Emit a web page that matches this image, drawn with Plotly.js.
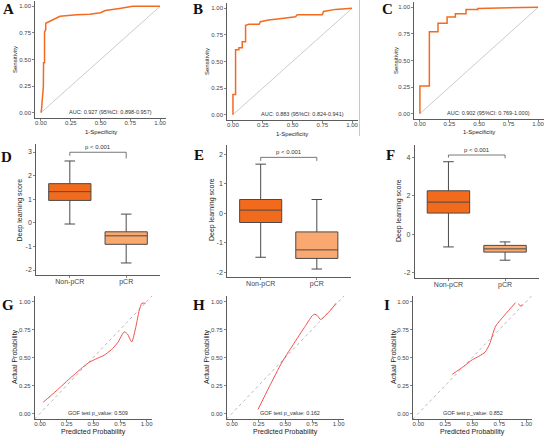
<!DOCTYPE html>
<html><head><meta charset="utf-8">
<script src="https://cdn.plot.ly/plotly-3.0.1.min.js"></script>
<style>html,body{margin:0;padding:0;background:#fff}#chart{width:546px;height:436px}</style>
</head><body><div id="chart"></div>
<script>
// ---------- DATA ----------
const probTicks = [0, 0.25, 0.5, 0.75, 1];
const probTickText = ['0.00', '0.25', '0.50', '0.75', '1.00'];
const categories = ['Non-pCR', 'pCR'];
const panelLetters = ['A','B','C','D','E','F','G','H','I'];

// ROC curves
const rocA_fpr = [0,0.005,0.01,0.02,0.022,0.03,0.03,0.04,0.04,0.078,0.12,0.16,0.3,0.41,0.5,0.54,0.66,0.77,1];
const rocA_tpr = [0,0.03,0.11,0.24,0.47,0.47,0.76,0.78,0.84,0.86,0.89,0.906,0.92,0.925,0.94,0.96,0.98,1,1];
const rocB_fpr = [0,0,0.022,0.022,0.05,0.05,0.078,0.078,0.106,0.106,0.134,0.22,0.23,0.30,0.41,0.525,0.54,0.75,0.76,0.86,1];
const rocB_tpr = [0,0.19,0.19,0.61,0.61,0.63,0.63,0.686,0.686,0.84,0.85,0.85,0.874,0.89,0.905,0.92,0.94,0.94,0.97,0.99,1];
const rocC_fpr = [0,0,0.08,0.08,0.153,0.153,0.23,0.23,0.30,0.30,0.39,0.39,0.49,0.49,1];
const rocC_tpr = [0,0.26,0.26,0.77,0.77,0.85,0.85,0.91,0.91,0.94,0.94,0.98,0.98,0.99,1];
const aucLabels = ['AUC: 0.927 (95%CI: 0.898-0.957)', 'AUC: 0.883 (95%CI: 0.824-0.941)', 'AUC: 0.902 (95%CI: 0.769-1.000)'];

// Box plots (lower fence, q1, median, q3, upper fence) per group
const boxD_nonpcr = [-0.05, 0.95, 1.32, 1.66, 2.62];
const boxD_pcr    = [-1.70, -0.91, -0.55, -0.38, 0.37];
const boxE_nonpcr = [-1.49, -0.31, 0.11, 0.47, 1.67];
const boxE_pcr    = [-1.89, -1.53, -1.24, -0.63, 0.47];
const boxF_nonpcr = [-0.66, 1.10, 1.67, 2.26, 3.77];
const boxF_pcr    = [-1.35, -0.93, -0.76, -0.58, -0.40];
// significance brackets: [left end y, top y, right end y]
const bracketD = [2.84, 2.99, 2.73];
const bracketE = [1.78, 1.90, 1.78];
const bracketF = [3.98, 4.12, 3.95];
const pLabel = 'p < 0.001';
const boxTicksD = [-2, -1, 0, 1, 2, 3];
const boxTicksE = [-2, -1, 0, 1, 2];
const boxTicksF = [-2, 0, 2, 4];

// Calibration curves
const calG_pred = [0.03,0.15,0.3,0.45,0.52,0.6,0.67,0.73,0.77,0.79,0.82,0.86,0.9,0.93,0.955,0.99];
const calG_act  = [0.10,0.20,0.33,0.45,0.485,0.52,0.57,0.635,0.705,0.73,0.71,0.64,0.78,0.92,0.985,0.985];
const calH_pred = [0.244,0.35,0.47,0.59,0.70,0.75,0.775,0.80,0.83,0.88,0.93,0.975];
const calH_act  = [0.036,0.24,0.46,0.64,0.80,0.872,0.887,0.875,0.84,0.88,0.93,0.985];
const calI_pred = [0.315,0.42,0.50,0.56,0.62,0.66,0.716,0.80,0.90,null,0.925,0.95,0.963];
const calI_act  = [0.35,0.42,0.48,0.51,0.55,0.62,0.78,0.88,0.99,null,0.98,0.96,0.975];
const gofLabels = ['GOF test p_value: 0.509', 'GOF test p_value: 0.162', 'GOF test p_value: 0.852'];

// ---------- LAYOUT HELPERS ----------
const W = 546, H = 436;
const fx = p => p / W, fy = p => 1 - p / H;
// pixel boxes [x0, x1, ytop, ybottom]
const boxesPx = [
  [35, 166, 1, 118], [227, 358, 3, 120], [414, 544, 2, 119],
  [36, 160, 144, 275], [227, 350.5, 145, 276.7], [414.5, 539, 145, 277.7],
  [34.7, 152, 296, 419], [226.7, 344, 296, 419], [412.9, 531.7, 296, 419]
];
const yRanges = [null, null, null, [-2.21, 3.34], [-2.15, 2.32], [-2.26, 4.64], null, null, null];
const boxTicks = [null, null, null, boxTicksD, boxTicksE, boxTicksF];

const FONT = 'Liberation Sans, Arial, sans-serif';
const layout = {
  width: W, height: H, margin: {l: 0, r: 0, t: 0, b: 0},
  paper_bgcolor: '#fff', plot_bgcolor: '#fff', showlegend: false,
  font: {family: FONT, color: '#222'},
  annotations: [], shapes: []
};
function axBase() {
  return {showline: true, linecolor: '#333', linewidth: 0.8, ticks: 'outside', ticklen: 2,
    tickwidth: 0.6, tickcolor: '#333', showgrid: false, zeroline: false, fixedrange: true,
    tickfont: {size: 6, color: '#444', family: FONT}};
}
for (let i = 0; i < 9; i++) {
  const [x0, x1, yt, yb] = boxesPx[i];
  const xa = axBase(), ya = axBase();
  xa.domain = [fx(x0), fx(x1)]; ya.domain = [fy(yb), fy(yt)];
  const n = i === 0 ? '' : String(i + 1);
  xa.anchor = 'y' + n; ya.anchor = 'x' + n;
  xa.ticklabelstandoff = -3;
  if (i >= 3 && i <= 5) {
    xa.type = 'category'; xa.categoryorder = 'array'; xa.categoryarray = categories;
    xa.range = [-0.6, 1.6]; xa.tickfont = {size: 7, color: '#444', family: FONT};
    xa.ticklabelstandoff = -2;
    ya.range = yRanges[i]; ya.tickvals = boxTicks[i]; ya.ticktext = boxTicks[i].map(v => String(v));
    ya.tickfont = {size: 7, color: '#444', family: FONT};
  } else {
    xa.range = [-0.05, 1.05]; ya.range = [-0.05, 1.05];
    xa.tickvals = probTicks; xa.ticktext = probTickText;
    ya.tickvals = probTicks; ya.ticktext = probTickText;
  }
  layout['xaxis' + n] = xa; layout['yaxis' + n] = ya;
}

const traces = [];
const ROC_COLOR = '#F26B21', CAL_COLOR = '#F2504D';
function axn(i) { return i === 0 ? ['x', 'y'] : ['x' + (i + 1), 'y' + (i + 1)]; }

// ROC panels
[[rocA_fpr, rocA_tpr], [rocB_fpr, rocB_tpr], [rocC_fpr, rocC_tpr]].forEach((d, i) => {
  const [xr, yr] = axn(i);
  traces.push({x: [0, 1], y: [0, 1], xaxis: xr, yaxis: yr, mode: 'lines', hoverinfo: 'skip',
    line: {color: '#aaa', width: 0.6}});
  traces.push({x: d[0], y: d[1], xaxis: xr, yaxis: yr, mode: 'lines', line: {color: ROC_COLOR, width: 1.5}});
  layout.annotations.push({xref: xr, yref: yr, x: 0.945, y: 0.01, xanchor: 'right', yanchor: 'middle',
    text: aucLabels[i], showarrow: false, font: {size: 5.5, color: '#333', family: FONT}});
});

// Box panels
const boxData = [[boxD_nonpcr, boxD_pcr, bracketD], [boxE_nonpcr, boxE_pcr, bracketE], [boxF_nonpcr, boxF_pcr, bracketF]];
const boxFills = ['#F26B1D', '#F9A870'];
boxData.forEach((d, k) => {
  const i = k + 3; const [xr, yr] = axn(i);
  [d[0], d[1]].forEach((s, g) => {
    traces.push({type: 'box', x: [categories[g]], lowerfence: [s[0]], q1: [s[1]], median: [s[2]],
      q3: [s[3]], upperfence: [s[4]], xaxis: xr, yaxis: yr, boxpoints: false, width: 0.75,
      whiskerwidth: 0.25, fillcolor: boxFills[g], line: {color: '#4a4a4a', width: 1}});
  });
  const b = d[2];
  traces.push({x: [categories[0], categories[0], categories[1], categories[1]], y: [b[0], b[1], b[1], b[2]],
    xaxis: xr, yaxis: yr, mode: 'lines', line: {color: '#555', width: 0.8}, hoverinfo: 'skip'});
  layout.annotations.push({xref: xr, yref: yr, x: 0.5, y: b[1], xanchor: 'center', yanchor: 'bottom',
    text: pLabel, showarrow: false, font: {size: 6, color: '#333', family: FONT}});
});

// Calibration panels
[[calG_pred, calG_act], [calH_pred, calH_act], [calI_pred, calI_act]].forEach((d, k) => {
  const i = k + 6; const [xr, yr] = axn(i);
  traces.push({x: [-0.05, 1.05], y: [-0.05, 1.05], xaxis: xr, yaxis: yr, mode: 'lines', hoverinfo: 'skip',
    line: {color: '#888', width: 0.6, dash: 'dot'}});
  traces.push({x: d[0], y: d[1], xaxis: xr, yaxis: yr, mode: 'lines', connectgaps: false,
    line: {color: CAL_COLOR, width: 1, shape: 'spline', smoothing: 0.6}});
  layout.annotations.push({xref: xr, yref: yr, x: k === 2 ? 0.505 : 0.54, y: 0.005, xanchor: 'center', yanchor: 'middle',
    text: gofLabels[k], showarrow: false, font: {size: 5.5, color: '#333', family: FONT}});
});

// Axis titles (as annotations, pixel placed)
function ann(text, px, py, rot, size) {
  layout.annotations.push({xref: 'paper', yref: 'paper', x: fx(px), y: fy(py), xanchor: 'center', yanchor: 'middle',
    text: text, textangle: rot, showarrow: false, font: {size: size, color: '#222', family: FONT}});
}
ann('Sensitivity', 15, 60, -90, 6); ann('Sensitivity', 207, 62, -90, 6); ann('Sensitivity', 396, 61, -90, 6);
ann('1-Specificity', 100.5, 131.5, 0, 6); ann('1-Specificity', 292, 133.5, 0, 6); ann('1-Specificity', 479, 132.5, 0, 6);
ann('Deep learning score', 19.5, 210, -90, 7); ann('Deep learning score', 212, 210, -90, 7); ann('Deep learning score', 399, 211, -90, 7);
ann('Actual Probability', 15, 357, -90, 7); ann('Actual Probability', 207, 357, -90, 7); ann('Actual Probability', 394, 357, -90, 7);
ann('Predicted Probability', 93, 432, 0, 7); ann('Predicted Probability', 285, 432, 0, 7); ann('Predicted Probability', 472, 432, 0, 7);

// Panel letters
const letterPos = [[8, 9], [198, 9], [387, 9], [6, 157], [199, 155], [390, 155], [8, 305], [199, 305], [387, 305]];
panelLetters.forEach((L, i) => {
  layout.annotations.push({xref: 'paper', yref: 'paper', x: fx(letterPos[i][0]), y: fy(letterPos[i][1]),
    xanchor: 'center', yanchor: 'middle', text: '<b>' + L + '</b>', showarrow: false,
    font: {size: 15, color: '#111', family: 'Liberation Serif, Times New Roman, serif'}});
});

// separator line right of panel B
layout.shapes.push({type: 'line', xref: 'paper', yref: 'paper', x0: fx(359.5), x1: fx(359.5), y0: fy(136), y1: fy(0),
  line: {color: '#bbb', width: 0.8}});

Plotly.newPlot('chart', traces, layout, {displayModeBar: false, staticPlot: true});
</script></body></html>
